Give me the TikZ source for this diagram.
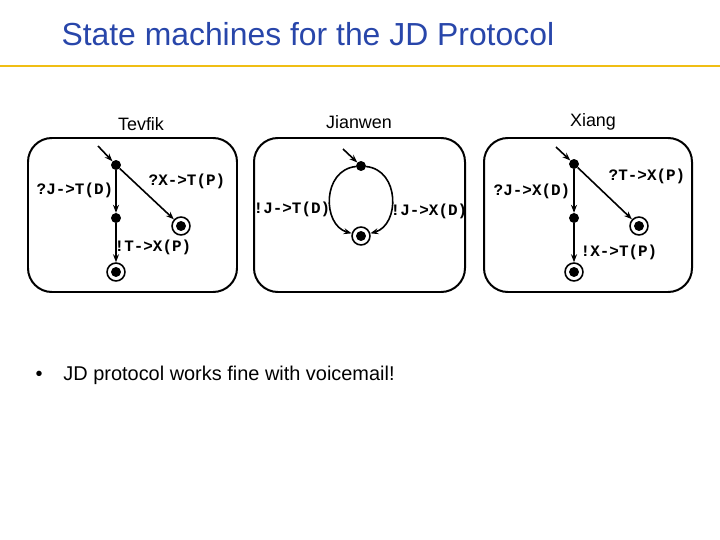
\documentclass[tikz,border=0pt]{standalone}
\usepackage{fontspec}
\setmainfont{Liberation Sans}
\newfontfamily\lblfont{Liberation Mono}
\usetikzlibrary{arrows.meta}
\definecolor{titleblue}{RGB}{40,70,170}
\definecolor{rulegold}{RGB}{240,190,20}
\tikzset{
  st/.style={circle,fill,inner sep=0pt,minimum size=10pt},
  fin/.style={circle,draw,line width=1.6pt,inner sep=0pt,minimum size=18pt,path picture={\fill (path picture bounding box.center) circle (5pt);}},
  tr/.style={line width=1.6pt,-{Stealth[length=8pt]}},
  lbl/.style={font=\lblfont\bfseries\fontsize{16}{16}\selectfont},
  hdr/.style={font=\fontsize{18}{18}\selectfont},
  box/.style={draw,line width=2pt,rounded corners=24pt},
}
\begin{document}
\begin{tikzpicture}[x=1bp,y=-1bp]
\useasboundingbox (0,0) rectangle (720,540);
\node[anchor=west,text=titleblue,font=\fontsize{32}{32}\selectfont] (title) at (58,34) {State machines for the JD Protocol};
\draw[rulegold,line width=2.5pt] (0,66) -- (720,66);
\node[hdr] (tevfik) at (141,124) {Tevfik};
\node[hdr] (jianwen) at (359,122) {Jianwen};
\node[hdr] (xiang) at (593,122) {Xiang};
\draw[box] (28,138) rectangle (237,292);
\draw[box] (254,138) rectangle (465,292);
\draw[box] (484,138) rectangle (692,292);
% Tevfik
\coordinate (t0) at (98,146);
\node[st] (t1) at (116,165) {};
\node[st] (t2) at (116,218) {};
\node[fin] (t3) at (116,272) {};
\node[fin] (t4) at (181,226) {};
\draw[tr] (t0) -- (t1);
\draw[tr] (t1) -- (t2);
\draw[tr] (t2) -- (t3);
\draw[tr] (t1) -- (t4);
\node[lbl] (tl1) at (75,190) {?J->T(D)};
\node[lbl] (tl2) at (187,181) {?X->T(P)};
\node[lbl] (tl3) at (153,247) {!T->X(P)};
% Jianwen
\coordinate (j0) at (343,149);
\node[st] (j1) at (361,166) {};
\node[fin] (j2) at (361,236) {};
\draw[tr] (j0) -- (j1);
\draw[tr] (j1) .. controls (322,170) and (322,225) .. (j2);
\draw[tr] (j1) .. controls (400,170) and (400,225) .. (j2);
\node[lbl] (jl1) at (292,209) {!J->T(D)};
\node[lbl] (jl2) at (429,211) {!J->X(D)};
% Xiang
\coordinate (x0) at (556,147);
\node[st] (x1) at (574,164) {};
\node[st] (x2) at (574,218) {};
\node[fin] (x3) at (574,272) {};
\node[fin] (x4) at (639,226) {};
\draw[tr] (x0) -- (x1);
\draw[tr] (x1) -- (x2);
\draw[tr] (x2) -- (x3);
\draw[tr] (x1) -- (x4);
\node[lbl] (xl1) at (532,191) {?J->X(D)};
\node[lbl] (xl2) at (647,176) {?T->X(P)};
\node[lbl] (xl3) at (619,252) {!X->T(P)};
\node[anchor=west,font=\fontsize{20}{20}\selectfont] (note) at (32,375) {\textbullet\hspace{21bp}JD protocol works fine with voicemail!};
\end{tikzpicture}
\end{document}
